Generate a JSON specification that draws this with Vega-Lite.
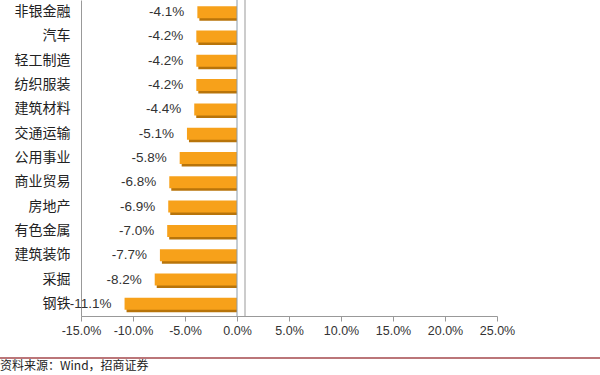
{
  "$schema": "https://vega.github.io/schema/vega-lite/v6.json",
  "width": 416,
  "height": 316,
  "autosize": "none",
  "padding": {"left": 81, "top": 0, "right": 103, "bottom": 59},
  "background": "white",
  "config": {"view": {"stroke": null}, "font": "Noto Sans CJK SC",
    "locale": {"number": {"decimal": ".", "thousands": ",", "grouping": [3], "currency": ["$", ""], "minus": "-", "percent": "%"}}},
  "title": {"text": "资料来源：Wind，招商证券", "orient": "bottom", "anchor": "start", "frame": "group", "dx": -81, "offset": 2, "fontSize": 12, "fontWeight": "normal", "color": "#222", "font": "Noto Sans CJK SC"},
  "data": {"values": [
    {"industry": "非银金融", "v": -0.041},
    {"industry": "汽车", "v": -0.042},
    {"industry": "轻工制造", "v": -0.042},
    {"industry": "纺织服装", "v": -0.042},
    {"industry": "建筑材料", "v": -0.044},
    {"industry": "交通运输", "v": -0.051},
    {"industry": "公用事业", "v": -0.058},
    {"industry": "商业贸易", "v": -0.068},
    {"industry": "房地产", "v": -0.069},
    {"industry": "有色金属", "v": -0.070},
    {"industry": "建筑装饰", "v": -0.077},
    {"industry": "采掘", "v": -0.082},
    {"industry": "钢铁", "v": -0.111}
  ]},
  "layer": [
    {"mark": {"type": "bar", "color": "#B8740A", "xOffset": 5, "yOffset": 2, "height": 13},
     "encoding": {
       "y": {"field": "industry", "type": "nominal", "sort": null,
         "scale": {"paddingInner": 0.5, "paddingOuter": 0.25},
         "axis": {"title": null, "ticks": false, "domainColor": "#999", "labelFontSize": 14, "labelColor": "#222", "labelPadding": 11, "labelFont": "Noto Sans CJK SC"}},
       "x": {"field": "v", "type": "quantitative",
        "scale": {"domain": [-0.15, 0.25]},
        "axis": {"title": null, "format": ".1%", "values": [-0.15, -0.1, -0.05, 0, 0.05, 0.1, 0.15, 0.2, 0.25], "labelOverlap": false, "labelFlush": false, "grid": false, "domainColor": "#999", "tickColor": "#999", "tickSize": 5, "labelFontSize": 12.5, "labelColor": "#333", "labelPadding": 3, "labelFont": "Liberation Sans"}},
       "x2": {"datum": 0}}},
    {"mark": {"type": "bar", "color": "#F7A11A", "xOffset": 3, "height": 12},
     "encoding": {"y": {"field": "industry", "type": "nominal", "sort": null}, "x": {"field": "v", "type": "quantitative"}, "x2": {"datum": 0}}},
    {"mark": {"type": "text", "align": "right", "baseline": "middle", "dx": -10, "fontSize": 13.5, "color": "#333", "font": "Liberation Sans"},
     "encoding": {"y": {"field": "industry", "type": "nominal", "sort": null}, "x": {"field": "v", "type": "quantitative"}, "text": {"field": "v", "type": "quantitative", "format": ".1%"}}},
    {"data": {"values": [{}]}, "mark": {"type": "rule", "color": "#8a9aa8", "strokeWidth": 1}, "encoding": {"x": {"datum": 0}}},
    {"data": {"values": [{}]}, "mark": {"type": "rule", "color": "#999", "strokeWidth": 1, "xOffset": 8}, "encoding": {"x": {"datum": 0}}},
    {"data": {"values": [{}]}, "mark": {"type": "rule", "color": "#A5484C", "strokeWidth": 1.5, "clip": false},
     "encoding": {"x": {"datum": -0.23}, "x2": {"datum": 0.35}, "y": {"value": 358}}}
  ]
}
